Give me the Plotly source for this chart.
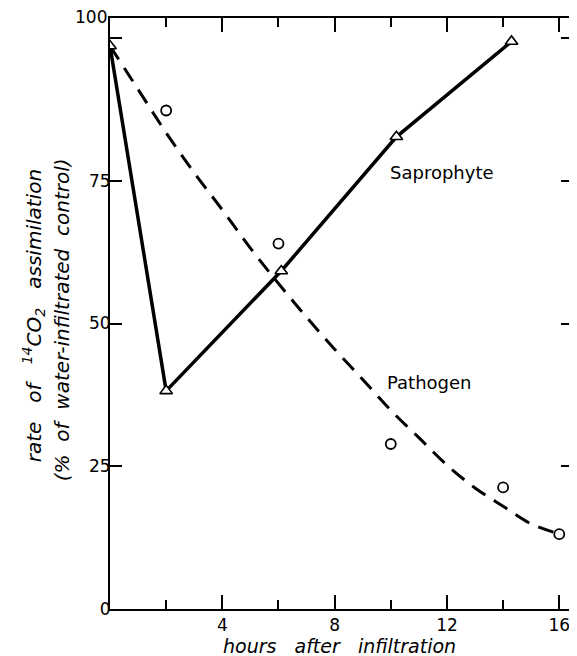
import plotly.graph_objects as go

# Saprophyte (triangles, solid line)
sap_hours = [0, 2, 6.1, 10.2, 14.3]
sap_values = [98.6, 38.2, 59.2, 82.7, 99.4]

# Pathogen (circles)
path_hours = [2, 6, 10, 14, 16]
path_values = [87.3, 64.0, 28.9, 21.3, 13.1]

# Pathogen fitted dashed curve
curve_hours = [0, 1, 2, 3, 4, 5, 6, 7, 8, 9, 10, 11, 12, 13, 14, 15, 15.9]
curve_values = [98.6, 91.0, 83.4, 76.4, 69.9, 63.2, 57.0, 51.1, 45.5, 40.2,
                34.8, 30.0, 25.2, 21.2, 18.0, 14.9, 13.3]

x_major = [4, 8, 12, 16]
x_minor = [2, 6, 10, 14]
y_major = [0, 25, 50, 75]
y_minor = [100]

FONT = "DejaVu Sans"

fig = go.Figure()
fig.add_trace(go.Scatter(
    x=curve_hours, y=curve_values, mode="lines", line_shape="spline",
    line=dict(color="black", width=3, dash="16px,10px"), hoverinfo="skip"))
fig.add_trace(go.Scatter(
    x=sap_hours, y=sap_values, mode="lines",
    line=dict(color="black", width=3.5)))
fig.add_trace(go.Scatter(
    x=path_hours, y=path_values, mode="markers",
    marker=dict(symbol="circle-open", size=10, color="black", line=dict(width=1.8))))
fig.add_trace(go.Scatter(
    x=sap_hours, y=sap_values, mode="markers",
    marker=dict(symbol="triangle-up", size=11, color="white",
                line=dict(width=1.6, color="black"))))

# page body has an 8px margin; compensate so the plot sits where the reference has it
OFF = 8
L, R, T, B = 110 - OFF, 2, 18 - OFF, 47
W, H = 577 - OFF, 656 - OFF
pw = W - L - R
ph = H - T - B

def px_x(p):
    return (p - 110) / pw

def px_y(p):
    return 1 - (p - 18) / ph

fig.update_layout(
    width=W, height=H, showlegend=False,
    margin=dict(l=L, r=R, t=T, b=B),
    paper_bgcolor="white", plot_bgcolor="white",
    font=dict(family=FONT, color="black", size=17),
    xaxis=dict(range=[0, pw / 28.2], tickvals=x_major, ticks="inside", ticklen=14,
               tickwidth=2, tickcolor="black",
               minor=dict(tickvals=x_minor, ticks="inside", ticklen=9,
                          tickwidth=2, tickcolor="black"),
               showline=True, linecolor="black", linewidth=2, mirror="ticks",
               showgrid=False, zeroline=False,
               tickfont=dict(size=17, family=FONT)),
    yaxis=dict(range=[0, ph / 5.71], tickvals=y_major,
               ticks="inside", ticklen=12, tickwidth=2, tickcolor="black",
               minor=dict(tickvals=y_minor, ticks="inside", ticklen=12,
                          tickwidth=2, tickcolor="black"),
               showline=True, linecolor="black", linewidth=2, mirror="ticks",
               showgrid=False, zeroline=False,
               tickfont=dict(size=17, family=FONT)),
)
try:
    fig.update_layout(yaxis_ticklabelstandoff=-6)
except Exception:
    pass

ann = [
    dict(text="100", x=px_x(109), y=px_y(17), xref="paper", yref="paper",
         xanchor="right", yanchor="middle", showarrow=False,
         font=dict(size=17)),
    dict(text="<i>hours   after   infiltration</i>", x=px_x(340), y=px_y(646),
         xref="paper", yref="paper", xanchor="center", yanchor="middle",
         showarrow=False, font=dict(size=19)),
    dict(text="<i>rate   of   <sup>14</sup>CO<sub>2</sub>   assimilation</i>",
         x=px_x(33), y=px_y(316), xref="paper", yref="paper",
         xanchor="center", yanchor="middle", textangle=-90, showarrow=False,
         font=dict(size=20)),
    dict(text="<i>(%  of  water-infiltrated  control)</i>",
         x=px_x(62), y=px_y(320), xref="paper", yref="paper",
         xanchor="center", yanchor="middle", textangle=-90, showarrow=False,
         font=dict(size=20)),
    dict(text="Saprophyte", x=px_x(443), y=px_y(173),
         xref="paper", yref="paper", xanchor="center", yanchor="middle",
         showarrow=False, font=dict(size=18)),
    dict(text="Pathogen", x=px_x(430), y=px_y(382),
         xref="paper", yref="paper", xanchor="center", yanchor="middle",
         showarrow=False, font=dict(size=18)),
]
fig.update_layout(annotations=ann)

fig.write_html("out.html")
